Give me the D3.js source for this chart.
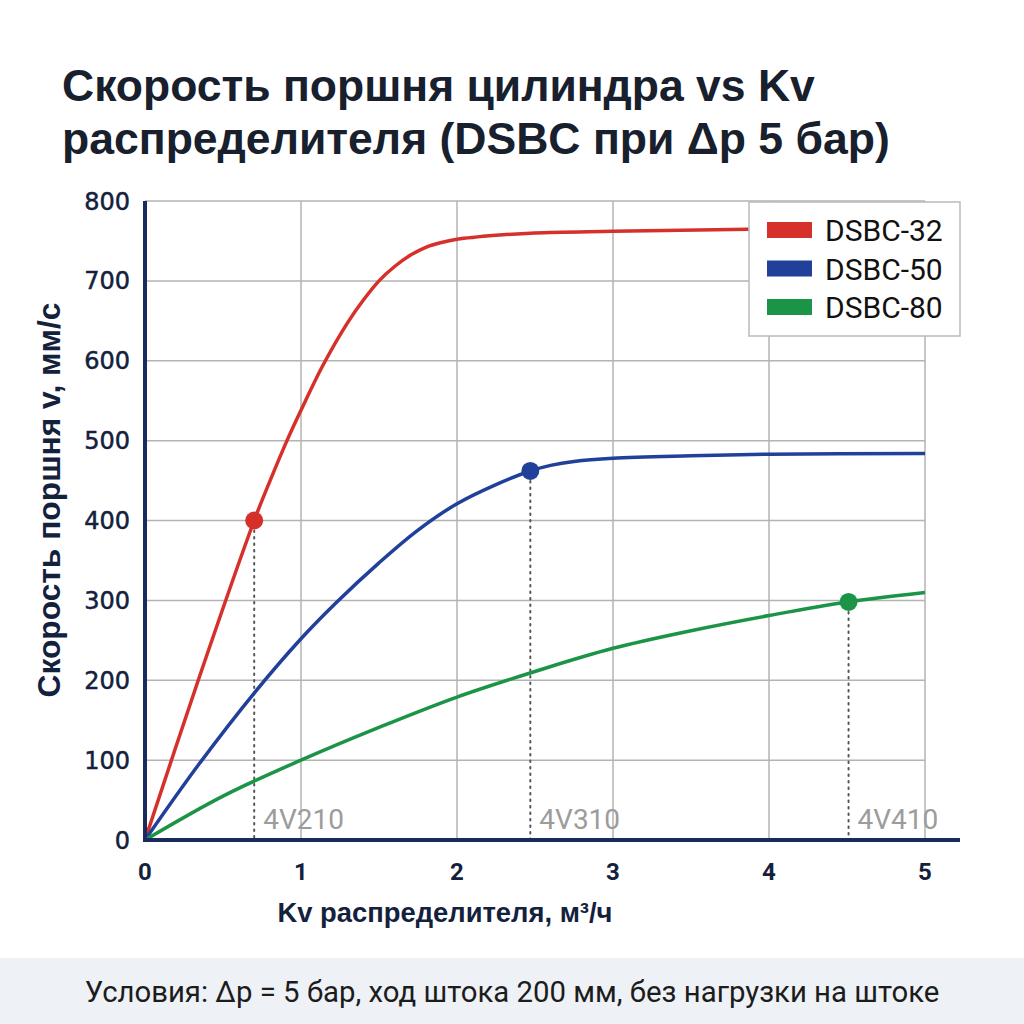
<!DOCTYPE html>
<html><head><meta charset="utf-8">
<script src="https://cdn.jsdelivr.net/npm/d3@7"></script>
<style>body{margin:0;background:#fff}svg{display:block}</style>
</head><body>
<svg id="c" width="1024" height="1024"></svg>
<script>
const titleLines = ["Скорость поршня цилиндра vs Kv", "распределителя (DSBC при Δр 5 бар)"];
const xTicks = [0,1,2,3,4,5];
const yTicks = [0,100,200,300,400,500,600,700,800];
const seriesNames = ["DSBC-32","DSBC-50","DSBC-80"];
const seriesColors = ["#d5302a","#21409a","#1b9447"];
const dsbc32 = [[0,0],[0.35,205],[0.7,400],[0.8,449],[0.91,500],[1.0,538],[1.14,594],[1.3,648],[1.4,676],[1.5,700],[1.6,718],[1.7,732],[1.8,742],[1.9,748],[2.0,752],[2.25,757],[2.5,760],[3,762],[4,765],[5,767]];
const dsbc50 = [[0,0],[0.35,96],[0.7,184],[1.0,252],[1.23,298],[1.5,347],[1.75,388],[2.0,421],[2.25,445],[2.47,462],[2.6,469],[2.75,474],[3,478],[3.5,481],[4,483],[5,484]];
const dsbc80 = [[0,0],[0.5,55],[1,100],[1.5,141],[2,179],[2.5,211],[3,240],[3.5,262],[4,281],[4.5,298],[5,310]];
const valveLabels = ["4V210","4V310","4V410"];
const valveKv = [0.7,2.47,4.51];
const valveV = [400,462,298];
const footerText = "Условия: Δр = 5 бар, ход штока 200 мм, без нагрузки на штоке";
const xLabel = "Kv распределителя, м³/ч";
const yLabel = "Скорость поршня v, мм/с";

const svg = d3.select("#c");
const x = d3.scaleLinear().domain([0,5]).range([145,925]);
const y = d3.scaleLinear().domain([0,800]).range([840,201]);
const dark = "#14213d";
const bold = "'Liberation Sans', Arial, sans-serif";

function fitWidth(sel, w){
  const l = sel.node().getComputedTextLength();
  const fs = +sel.attr("font-size");
  sel.attr("font-size", fs*w/l);
}

// title
const titleWidths = [753, 828];
svg.append("g").selectAll("text").data(titleLines).join("text")
  .attr("x",62).attr("y",(d,i)=>101+i*53)
  .attr("font-family",bold).attr("font-weight",700).attr("font-size",46)
  .attr("fill","#18202e").text(d=>d)
  .each(function(d,i){ fitWidth(d3.select(this), titleWidths[i]); });

// grid
const g = svg.append("g");
g.selectAll(".vg").data(xTicks.slice(1)).join("line")
  .attr("x1",d=>x(d)).attr("x2",d=>x(d)).attr("y1",y(800)).attr("y2",y(0))
  .attr("stroke","#b3b3b3").attr("stroke-width",1.5);
g.selectAll(".hg").data(yTicks.slice(1)).join("line")
  .attr("x1",x(0)).attr("x2",x(5)).attr("y1",d=>y(d)).attr("y2",d=>y(d))
  .attr("stroke","#b3b3b3").attr("stroke-width",1.5);

// dotted drop lines
g.selectAll(".drop").data(valveKv).join("line")
  .attr("x1",d=>x(d)).attr("x2",d=>x(d)).attr("y1",(d,i)=>y(valveV[i])+10).attr("y2",y(0))
  .attr("stroke","#555").attr("stroke-width",2).attr("stroke-dasharray","1.5,5").attr("stroke-linecap","round");
g.selectAll(".vl").data(valveLabels).join("text")
  .attr("x",(d,i)=>x(valveKv[i])+9).attr("y",829)
  .attr("font-family","Roboto").attr("font-size",28).attr("fill","#9c9c9c").text(d=>d);

// lines
const line = d3.line().x(d=>x(d[0])).y(d=>y(d[1])).curve(d3.curveCatmullRom.alpha(0.5));
const allSeries = [dsbc32, dsbc50, dsbc80];
svg.append("g").selectAll("path").data(allSeries).join("path")
  .attr("d",line).attr("fill","none").attr("stroke",(d,i)=>seriesColors[i]).attr("stroke-width",3.5);

// markers
svg.append("g").selectAll("circle").data(valveKv).join("circle")
  .attr("cx",d=>x(d)).attr("cy",(d,i)=>y(valveV[i])).attr("r",9)
  .attr("fill",(d,i)=>seriesColors[i]);

// axes lines
svg.append("line").attr("x1",x(0)).attr("x2",x(0)).attr("y1",y(800)).attr("y2",y(0)+2)
  .attr("stroke","#1a2a5c").attr("stroke-width",4);
svg.append("line").attr("x1",x(0)-2).attr("x2",960).attr("y1",y(0)).attr("y2",y(0))
  .attr("stroke","#1a2a5c").attr("stroke-width",4);

// tick labels
svg.append("g").selectAll("text").data(yTicks).join("text")
  .attr("x",130).attr("y",d=>y(d)+8.5).attr("text-anchor","end")
  .attr("font-family","'DejaVu Sans'").attr("font-size",24).attr("fill",dark)
  .attr("stroke",dark).attr("stroke-width",0.5).text(d=>d);
svg.append("g").selectAll("text").data(xTicks).join("text")
  .attr("x",d=>x(d)).attr("y",880).attr("text-anchor","middle")
  .attr("font-family","Roboto").attr("font-weight",700).attr("font-size",24).attr("fill",dark).text(d=>d);

// axis titles
const xt = svg.append("text").attr("x",445).attr("y",922).attr("text-anchor","middle")
  .attr("font-family",bold).attr("font-weight",700).attr("font-size",26).attr("fill",dark).text(xLabel);
fitWidth(xt, 335);
const yt = svg.append("text").attr("transform","translate(60,500) rotate(-90)").attr("text-anchor","middle")
  .attr("font-family",bold).attr("font-weight",700).attr("font-size",26).attr("fill",dark).text(yLabel);
fitWidth(yt, 395);

// legend
const lg = svg.append("g");
lg.append("rect").attr("x",749).attr("y",202).attr("width",211).attr("height",134)
  .attr("fill","#fff").attr("stroke","#bbbbbb").attr("stroke-width",1.5);
seriesNames.forEach((n,i)=>{
  lg.append("rect").attr("x",767).attr("y",222+i*38.5).attr("width",45).attr("height",16).attr("fill",seriesColors[i]);
  lg.append("text").attr("x",825).attr("y",241+i*38.5).attr("font-family","Roboto").attr("font-size",30)
    .attr("fill","#111").text(n);
});

// footer
svg.append("rect").attr("x",0).attr("y",958).attr("width",1024).attr("height",66).attr("fill","#eef1f5");
const ft = svg.append("text").attr("x",512).attr("y",1002).attr("text-anchor","middle")
  .attr("font-family","Roboto").attr("font-size",29).attr("fill","#1c1c1c").text(footerText);
fitWidth(ft, 855);
</script>
</body></html>
